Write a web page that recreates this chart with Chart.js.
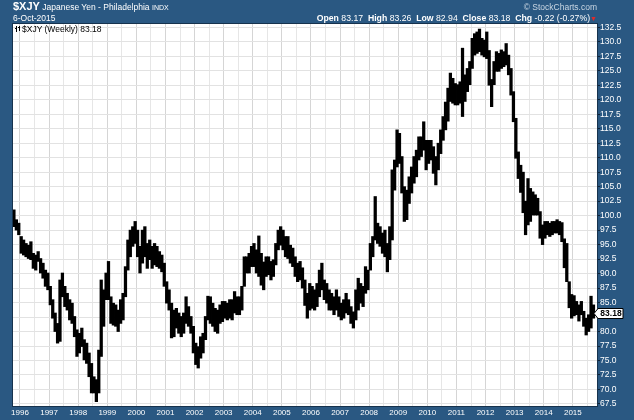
<!DOCTYPE html>
<html>
<head>
<meta charset="utf-8">
<script src="https://cdn.jsdelivr.net/npm/chart.js@4.4.0/dist/chart.umd.min.js"></script>
<style>
  html, body { margin: 0; padding: 0; }
  body {
    width: 634px; height: 420px; position: relative; overflow: hidden;
    background: #2a5882; color: #fff;
    font-family: "Liberation Sans", Arial, sans-serif;
  }
  #wrap { position: absolute; left: 0; top: 0; width: 634px; height: 420px; }
  .hdr { position: absolute; white-space: nowrap; }
</style>
</head>
<body>
<div id="wrap"><canvas id="xjyChart" width="634" height="420"></canvas></div>
<div class="hdr" style="left:13px; top:0px; font-size:8.5px; line-height:13px;"><b style="font-size:11px;">$XJY</b> Japanese Yen - Philadelphia <span style="font-size:7px;">INDX</span></div>
<div class="hdr" style="left:13px; top:13px; font-size:8.5px; line-height:11px;">6-Oct-2015</div>
<div class="hdr" style="right:37px; top:2px; font-size:8.5px; line-height:11px; color:#c9d6e3;">© StockCharts.com</div>
<div class="hdr" style="right:37px; top:13px; font-size:8.7px; line-height:11px;"><b>Open</b> 83.17 &nbsp;<b>High</b> 83.26 &nbsp;<b>Low</b> 82.94 &nbsp;<b>Close</b> 83.18 &nbsp;<b>Chg</b> -0.22 (-0.27%)<span style="color:#e02a2a; font-size:7px;">&#9660;</span></div>
<div class="hdr" style="left:22px; top:24px; font-size:8.5px; line-height:11px; color:#000;">$XJY (Weekly) 83.18</div>
<script>
// monthly bars, first one is October 1995
const startYear = 1995
const startMonth = 9
const lastClose = 83.18

const years = [1996, 1997, 1998, 1999, 2000, 2001, 2002, 2003, 2004, 2005,
               2006, 2007, 2008, 2009, 2010, 2011, 2012, 2013, 2014, 2015]

const priceTicks = [67.5, 70, 72.5, 75, 77.5, 80, 82.5, 85, 87.5, 90, 92.5, 95, 97.5,
                    100, 102.5, 105, 107.5, 110, 112.5, 115, 117.5, 120, 122.5, 125,
                    127.5, 130, 132.5]

const highs = [
    101.0, 99.3, 98.7,                                                         // 1995
    96.4, 95.8, 95.2, 94.9, 95.5, 93.5, 93.2, 93.8, 92.6, 91.8, 90.6, 90.1,    // 1996
    87.8, 85.5, 83.2, 81.4, 88.9, 90.1, 87.8, 86.6, 85.5, 84.9, 82.6, 80.3,    // 1997
    79.7, 80.6, 78.6, 78.0, 76.3, 74.5, 72.2, 71.7, 76.8, 88.9, 87.2, 90.1,    // 1998
    92.1, 86.0, 84.9, 84.6, 83.7, 85.5, 86.6, 91.2, 95.8, 97.5, 98.1, 99.0,    // 1999
    97.5, 94.7, 97.5, 98.1, 95.2, 95.8, 94.7, 95.2, 94.7, 93.8, 93.2, 91.8,    // 2000
    88.6, 87.2, 84.9, 83.7, 84.0, 83.2, 82.6, 83.2, 86.0, 84.3, 82.6, 80.9,    // 2001
    78.0, 77.4, 79.1, 79.7, 82.6, 86.1, 86.0, 84.9, 84.0, 83.7, 84.6, 85.2,    // 2002
    85.2, 84.9, 85.5, 85.5, 86.9, 86.0, 86.0, 87.8, 92.9, 92.9, 93.5, 94.7,    // 2003
    95.2, 94.1, 96.5, 93.5, 92.0, 92.9, 92.9, 92.1, 92.4, 95.2, 97.5, 98.1,    // 2004
    97.5, 96.4, 96.4, 94.9, 94.4, 92.9, 91.8, 92.1, 91.0, 88.9, 86.6, 88.3,    // 2005
    87.8, 87.2, 88.3, 90.6, 91.8, 88.9, 88.3, 87.2, 86.6, 86.0, 87.2, 86.0,    // 2006
    84.9, 85.5, 86.6, 85.5, 84.3, 83.4, 87.2, 89.2, 88.3, 87.8, 91.2, 90.6,    // 2007
    95.2, 96.4, 103.3, 98.7, 98.1, 97.0, 97.5, 95.2, 98.1, 107.9, 109.6, 114.8, // 2008
    114.2, 110.2, 105.0, 104.4, 106.7, 108.4, 110.2, 111.3, 113.6, 113.6, 116.2, 113.0, // 2009
    113.0, 113.0, 111.9, 110.2, 112.5, 114.8, 117.1, 119.6, 122.0, 124.6, 123.7, 122.8, // 2010
    122.6, 123.1, 128.9, 124.3, 125.4, 126.6, 130.6, 131.4, 131.7, 132.2, 130.6, 130.3, // 2011
    131.7, 128.5, 123.5, 126.6, 128.3, 128.0, 128.6, 128.3, 129.7, 127.7, 125.4, 121.4, // 2012
    116.8, 111.0, 108.7, 107.5, 102.5, 106.4, 104.7, 104.1, 103.6, 103.0, 100.7, 98.4,  // 2013
    99.0, 99.0, 98.7, 99.0, 99.0, 99.3, 99.0, 98.8, 96.0, 95.2, 88.6, 86.4,    // 2014
    86.2, 85.2, 84.6, 85.2, 83.5, 82.3, 82.9, 86.1, 84.6, 83.3                 // 2015
]

const lows = [
    98.1, 97.5, 96.7,                                                          // 1995
    93.5, 93.2, 92.9, 92.6, 92.4, 90.9, 90.6, 92.1, 90.1, 89.2, 87.8, 87.2,    // 1996
    84.6, 82.3, 80.0, 78.0, 78.3, 86.0, 84.3, 83.7, 82.0, 81.4, 79.1, 75.7,    // 1997
    76.3, 77.4, 75.1, 74.5, 72.2, 69.4, 69.4, 67.9, 69.4, 75.7, 80.9, 85.5,    // 1998
    85.5, 81.4, 81.1, 80.9, 80.0, 81.4, 82.0, 86.0, 90.6, 92.9, 94.7, 95.2,    // 1999
    92.9, 90.1, 91.8, 92.9, 90.9, 92.4, 90.9, 91.5, 91.2, 90.9, 90.3, 87.8,    // 2000
    84.9, 83.7, 78.9, 79.1, 80.6, 79.7, 79.1, 79.7, 81.4, 80.9, 79.7, 76.3,    // 2001
    74.3, 73.7, 75.4, 76.3, 78.6, 82.0, 81.4, 80.9, 80.0, 79.7, 81.4, 81.7,    // 2002
    82.3, 82.0, 82.3, 82.0, 83.2, 82.9, 82.9, 83.7, 87.8, 90.1, 90.1, 91.2,    // 2003
    91.2, 90.1, 89.5, 88.0, 87.2, 89.5, 89.8, 88.9, 89.5, 91.5, 94.1, 94.9,    // 2004
    94.1, 92.9, 92.6, 91.8, 91.2, 89.5, 88.6, 88.9, 87.5, 84.5, 82.3, 83.7,    // 2005
    84.0, 83.7, 84.3, 86.0, 87.2, 85.5, 84.9, 83.7, 83.7, 82.9, 83.7, 82.6,    // 2006
    82.0, 82.3, 83.2, 82.9, 81.4, 80.6, 82.0, 83.7, 84.9, 84.3, 86.6, 87.2,    // 2007
    90.6, 92.9, 95.8, 95.2, 94.7, 93.5, 92.9, 90.3, 92.4, 95.8, 104.4, 108.4,  // 2008
    109.0, 103.9, 99.0, 99.3, 102.1, 103.9, 105.6, 106.7, 109.6, 110.2, 111.3, 107.9, // 2009
    109.0, 109.6, 107.3, 105.3, 107.9, 110.7, 113.0, 114.8, 116.3, 119.7, 119.4, 119.1, // 2010
    119.1, 119.4, 117.1, 119.7, 121.4, 122.6, 125.4, 127.7, 128.0, 128.3, 127.7, 127.4, // 2011
    127.1, 122.5, 118.8, 122.6, 124.9, 124.9, 125.4, 125.7, 126.0, 124.3, 120.8, 116.2, // 2012
    109.9, 106.4, 104.0, 100.5, 96.7, 98.4, 99.0, 100.1, 100.1, 100.1, 96.1, 95.0,  // 2013
    96.1, 96.7, 96.4, 96.7, 97.0, 97.0, 96.7, 95.5, 91.0, 88.6, 84.1, 82.3,    // 2014
    82.7, 82.9, 81.8, 82.9, 80.9, 79.4, 80.0, 80.6, 82.3, 82.9                 // 2015
]

const bars = highs.map((h, i) => {
    return { x: startYear + (startMonth + i + 0.5) / 12, y: [lows[i], h] }
})

const xTicks = []
years.forEach(y => {
    xTicks.push({ value: y })
    xTicks.push({ value: y + 0.5 })
})

const chartFrame = {
    id: 'chartFrame',
    beforeDraw(chart) {
        const a = chart.chartArea
        const ctx = chart.ctx
        ctx.save()
        ctx.fillStyle = '#ffffff'
        ctx.fillRect(a.left, a.top, a.right - a.left, a.bottom - a.top)
        ctx.restore()
    },
    afterDraw(chart) {
        const a = chart.chartArea
        const ctx = chart.ctx
        ctx.save()
        ctx.strokeStyle = '#16324d'
        ctx.lineWidth = 1
        ctx.strokeRect(a.left - 0.5, a.top - 0.5, a.right - a.left + 1, a.bottom - a.top + 1)

        // small bar icon in front of the legend text
        ctx.strokeStyle = '#000'
        ctx.beginPath()
        ctx.moveTo(16.5, 26); ctx.lineTo(16.5, 32)
        ctx.moveTo(15, 28.5); ctx.lineTo(16.5, 28.5)
        ctx.moveTo(19.5, 26); ctx.lineTo(19.5, 31)
        ctx.moveTo(18, 27.5); ctx.lineTo(19.5, 27.5)
        ctx.stroke()

        // last price tag on the right axis
        const y = Math.round(chart.scales.y.getPixelForValue(lastClose)) + 0.5
        const x0 = a.right
        ctx.beginPath()
        ctx.moveTo(x0 - 3, y)
        ctx.lineTo(x0 + 1, y - 5)
        ctx.lineTo(x0 + 26, y - 5)
        ctx.lineTo(x0 + 26, y + 5)
        ctx.lineTo(x0 + 1, y + 5)
        ctx.closePath()
        ctx.fillStyle = '#fff'
        ctx.fill()
        ctx.strokeStyle = '#000'
        ctx.stroke()
        ctx.fillStyle = '#000'
        ctx.font = 'bold 8.5px "Liberation Sans", Arial, sans-serif'
        ctx.textAlign = 'center'
        ctx.textBaseline = 'middle'
        ctx.fillText(lastClose.toFixed(2), x0 + 14, y + 0.5)
        ctx.restore()
    }
}

const data = {
    datasets: [{
        label: '$XJY (Weekly)',
        data: bars,
        backgroundColor: '#000000',
        borderWidth: 0,
        barThickness: 2.6,
        grouped: false
    }]
}

const config = {
    type: 'bar',
    data: data,
    options: {
        responsive: false,
        animation: false,
        layout: { padding: { left: 13, top: 24, right: 0, bottom: 0 } },
        plugins: {
            legend: { display: false },
            tooltip: { enabled: false }
        },
        scales: {
            x: {
                type: 'linear',
                min: 1995.76,
                max: 2015.83,
                offset: false,
                afterBuildTicks: scale => { scale.ticks = xTicks.map(t => ({ value: t.value })) },
                afterFit: scale => { scale.height = 14 },
                border: { display: false },
                grid: {
                    offset: false,
                    drawTicks: false,
                    color: ctx => (ctx.tick && Number.isInteger(ctx.tick.value)) ? '#d5d5d5' : '#e6e6e6'
                },
                ticks: {
                    autoSkip: false,
                    maxRotation: 0,
                    padding: 2,
                    color: '#ffffff',
                    font: { family: '"Liberation Sans", Arial, sans-serif', size: 8 },
                    callback: v => years.includes(v) ? String(v) : ''
                }
            },
            y: {
                position: 'right',
                min: 67.15,
                max: 133.07,
                afterBuildTicks: scale => { scale.ticks = priceTicks.map(v => ({ value: v })) },
                afterFit: scale => { scale.width = 37 },
                border: { display: false },
                grid: {
                    color: '#e2e2e2',
                    tickLength: 3,
                    tickColor: '#0f2438'
                },
                ticks: {
                    padding: 0,
                    color: '#ffffff',
                    font: { family: '"Liberation Sans", Arial, sans-serif', size: 8.5 },
                    callback: v => Number(v).toFixed(1)
                }
            }
        }
    },
    plugins: [chartFrame]
}

const myChart = new Chart(
    document.getElementById('xjyChart'),
    config
)
</script>
</body>
</html>
